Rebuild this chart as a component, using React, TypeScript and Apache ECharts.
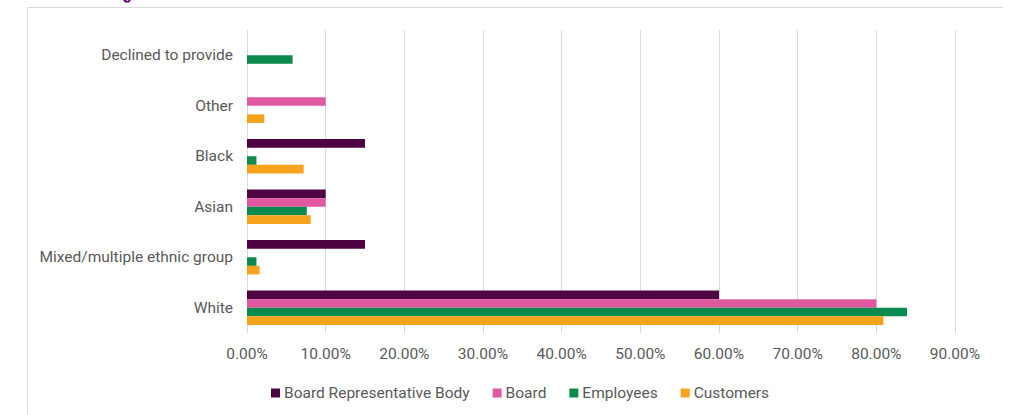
import React, { useEffect, useRef } from "react";
import * as echarts from "echarts";

const categories = ["White", "Mixed/multiple ethnic group", "Asian", "Black", "Other", "Declined to provide"];
const boardRepBody = [0.60, 0.15, 0.10, 0.15, 0, 0];
const board = [0.80, 0, 0.10, 0, 0.10, 0];
const employees = [0.839, 0.012, 0.076, 0.012, 0, 0.058];
const customers = [0.809, 0.016, 0.081, 0.072, 0.022, 0];
const seriesNames = ["Board Representative Body", "Board", "Employees", "Customers"];
const colors = ["#4E0442", "#E058A0", "#0B8A4E", "#F5A21D"];
const xTicks = [0, 0.1, 0.2, 0.3, 0.4, 0.5, 0.6, 0.7, 0.8, 0.9];

const FONT = "Roboto, sans-serif";
const TXT = "#595959";

export default function App() {
  const ref = useRef<HTMLDivElement>(null);
  useEffect(() => {
    if (!ref.current) return;
    const chart = echarts.init(ref.current, null, { renderer: "svg" });
    const data = [boardRepBody, board, employees, customers];
    chart.setOption({
      animation: false,
      backgroundColor: "#ffffff",
      textStyle: { fontFamily: FONT },
      grid: { left: 247, right: 55, top: 30, bottom: 82, containLabel: false },
      legend: {
        left: 266,
        top: 380,
        itemWidth: 9,
        itemHeight: 9,
        itemGap: 23,
        icon: "rect",
        textStyle: { color: TXT, fontSize: 15.5, fontFamily: FONT, padding: [0, 0, 0, -1] },
        data: seriesNames,
      },
      xAxis: {
        type: "value",
        min: xTicks[0],
        max: xTicks[xTicks.length - 1],
        interval: 0.1,
        axisLine: { show: false },
        axisTick: { show: false },
        splitLine: { show: true, lineStyle: { color: "#d9d9d9", width: 1 } },
        axisLabel: {
          color: TXT,
          fontSize: 15.5,
          fontFamily: FONT,
          margin: 13,
          formatter: (v: number) => (v * 100).toFixed(2) + "%",
        },
      },
      yAxis: {
        type: "category",
        data: categories,
        axisLine: { show: false },
        axisTick: { show: false },
        axisLabel: { color: TXT, fontSize: 15.5, fontFamily: FONT, margin: 14 },
      },
      series: seriesNames.map((name, i) => ({
        name,
        type: "bar",
        data: data[i],
        barWidth: 8.6,
        barGap: "0%",
        itemStyle: { color: colors[i] },
      })),
      graphic: [
        { type: "line", shape: { x1: 27.5, y1: 7.5, x2: 1003, y2: 7.5 }, style: { stroke: "#d9d9d9", lineWidth: 1 } },
        { type: "line", shape: { x1: 27.5, y1: 7.5, x2: 27.5, y2: 415 }, style: { stroke: "#d9d9d9", lineWidth: 1 } },
        {
          type: "polygon",
          shape: { points: [[123, 0], [126, 0], [127, 1], [129, 0], [131, 0], [129, 2.5], [125, 2.5]] },
          style: { fill: "#5B0A6E" },
        },
      ],
    });
    return () => chart.dispose();
  }, []);
  return (
    <div style={{ position: "fixed", left: 0, top: 0, width: 1010, height: 415 }}>
      <div ref={ref} style={{ width: 1010, height: 415 }} />
    </div>
  );
}
